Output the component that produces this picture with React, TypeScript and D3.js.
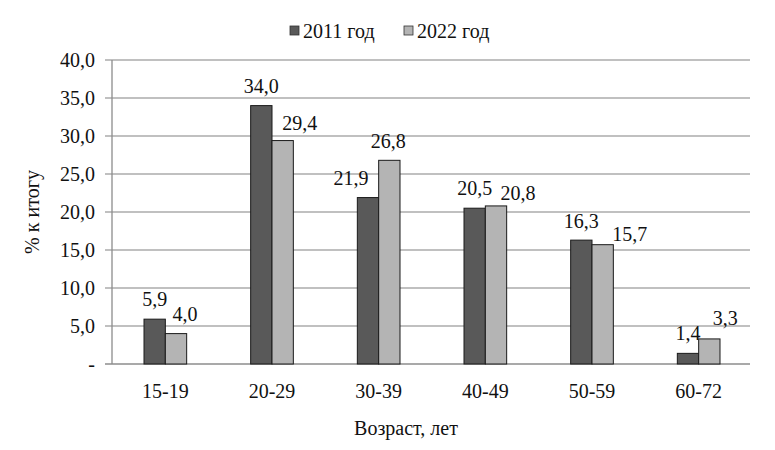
import React, { useEffect, useRef } from 'react';
import * as d3 from 'd3';

// age groups and shares (% of total)
const ageGroups = ['15-19', '20-29', '30-39', '40-49', '50-59', '60-72'];
const values2011 = [5.9, 34.0, 21.9, 20.5, 16.3, 1.4];
const values2022 = [4.0, 29.4, 26.8, 20.8, 15.7, 3.3];
const seriesNames = ['2011 год', '2022 год'];
const yTicks = [0, 5, 10, 15, 20, 25, 30, 35, 40];

// manual label nudges (like in the original excel chart): [dx, gap above bar]
const nudge2011 = [[0, 20], [0, 20], [-17, 20], [0, 20], [0, 19], [0, 20]];
const nudge2022 = [[9, 20], [17, 18], [-1, 19], [22, 13], [27, 11], [16, 21]];

const width = 775;
const height = 450;
const margin = { top: 60, right: 23, bottom: 86, left: 112 };
const font = 'Liberation Serif, Times New Roman, DejaVu Serif, serif';
const fontSize = 20;
const colors = ['#595959', '#b4b4b4'];

const fmt = (v: number) => v.toFixed(1).replace('.', ',');

export default function App() {
  const ref = useRef<SVGSVGElement>(null);

  useEffect(() => {
    const svg = d3.select(ref.current);
    svg.selectAll('*').remove();

    const x = d3.scaleBand().domain(ageGroups).range([margin.left, width - margin.right]);
    const y = d3.scaleLinear().domain([0, 40]).range([height - margin.bottom, margin.top]);
    const barW = x.bandwidth() * 0.2;

    // grid lines
    svg.append('g')
      .selectAll('line')
      .data(yTicks)
      .join('line')
      .attr('x1', margin.left - 7)
      .attr('x2', width - margin.right - 2)
      .attr('y1', d => y(d))
      .attr('y2', d => y(d))
      .attr('stroke', d => d === 0 ? '#8c8c8c' : '#ababab')
      .attr('stroke-width', 1.3);

    // y axis line
    svg.append('line')
      .attr('x1', margin.left).attr('x2', margin.left)
      .attr('y1', y(40)).attr('y2', y(0))
      .attr('stroke', '#8c8c8c').attr('stroke-width', 1.3);

    // y tick labels
    svg.append('g')
      .selectAll('text')
      .data(yTicks)
      .join('text')
      .attr('x', margin.left - 17)
      .attr('y', d => y(d))
      .attr('dy', '0.35em')
      .attr('text-anchor', 'end')
      .attr('font-family', font)
      .attr('font-size', fontSize)
      .attr('fill', '#111')
      .text(d => d === 0 ? '-' : fmt(d));

    // x tick labels
    svg.append('g')
      .selectAll('text')
      .data(ageGroups)
      .join('text')
      .attr('x', d => (x(d) as number) + x.bandwidth() / 2)
      .attr('y', y(0) + 27)
      .attr('dy', '0.35em')
      .attr('text-anchor', 'middle')
      .attr('font-family', font)
      .attr('font-size', fontSize)
      .attr('fill', '#111')
      .text(d => d);

    // bars + labels
    const series = [values2011, values2022];
    const nudges = [nudge2011, nudge2022];
    series.forEach((vals, si) => {
      const g = svg.append('g');
      g.selectAll('rect')
        .data(vals)
        .join('rect')
        .attr('x', (d, i) => (x(ageGroups[i]) as number) + x.bandwidth() / 2 - barW + si * barW)
        .attr('y', d => y(d))
        .attr('width', barW)
        .attr('height', d => y(0) - y(d))
        .attr('fill', colors[si])
        .attr('stroke', '#1a1a1a')
        .attr('stroke-width', 1);
      g.selectAll('text')
        .data(vals)
        .join('text')
        .attr('x', (d, i) => (x(ageGroups[i]) as number) + x.bandwidth() / 2 - barW / 2 + si * barW + nudges[si][i][0])
        .attr('y', (d, i) => y(d) - nudges[si][i][1])
        .attr('dy', '0.35em')
        .attr('text-anchor', 'middle')
        .attr('font-family', font)
        .attr('font-size', fontSize)
        .attr('fill', '#111')
        .text(d => fmt(d));
    });

    // legend
    const legendX = [290, 404];
    const leg = svg.append('g');
    seriesNames.forEach((name, i) => {
      leg.append('rect')
        .attr('x', legendX[i]).attr('y', 26)
        .attr('width', 9).attr('height', 9)
        .attr('fill', colors[i])
        .attr('stroke', '#333').attr('stroke-width', 0.8);
      leg.append('text')
        .attr('x', legendX[i] + 13).attr('y', 31)
        .attr('dy', '0.35em')
        .attr('font-family', font)
        .attr('font-size', fontSize)
        .attr('fill', '#111')
        .text(name);
    });

    // axis titles
    svg.append('text')
      .attr('transform', `translate(32,${(y(0) + y(40)) / 2}) rotate(-90)`)
      .attr('dy', '0.35em')
      .attr('text-anchor', 'middle')
      .attr('font-family', font)
      .attr('font-size', fontSize)
      .attr('fill', '#111')
      .text('% к итогу');
    svg.append('text')
      .attr('x', 406).attr('y', 428)
      .attr('dy', '0.35em')
      .attr('text-anchor', 'middle')
      .attr('font-family', font)
      .attr('font-size', fontSize)
      .attr('fill', '#111')
      .text('Возраст, лет');
  }, []);

  return (
    <svg ref={ref} width={width} height={height}
      style={{ position: 'absolute', left: 0, top: 0, background: '#fff' }} />
  );
}
